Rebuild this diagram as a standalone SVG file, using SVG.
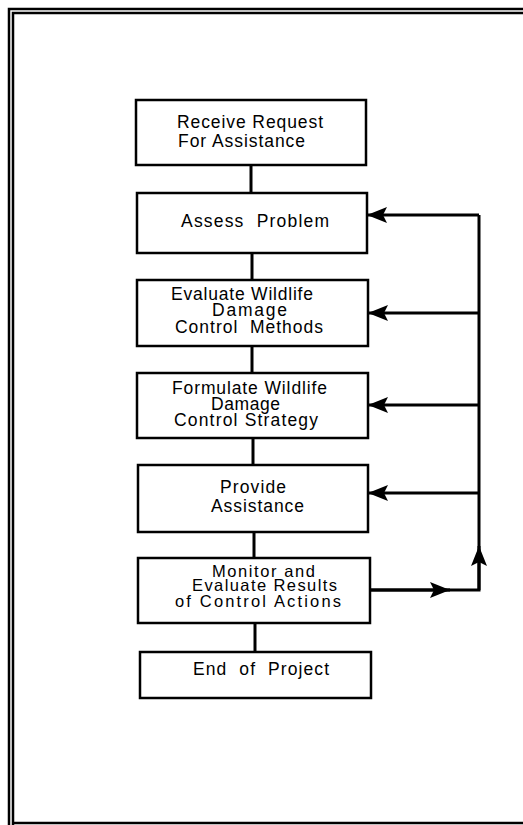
<svg xmlns="http://www.w3.org/2000/svg" width="523" height="825" viewBox="0 0 523 825">
<style>
.box{fill:#fff;stroke:#000;stroke-width:2.5}
.ln{fill:none;stroke:#000;stroke-width:3}
.t{font-family:"Liberation Sans",Arial,sans-serif;font-size:17.5px;fill:#000}
.s{font-size:16.5px}
.frame{fill:none;stroke:#000;stroke-width:2.5}
</style>
<defs>
<marker id="ah" viewBox="0 0 20 16" refX="20" refY="8" markerWidth="20" markerHeight="16" markerUnits="userSpaceOnUse" orient="auto">
<path d="M0,0 L20,8 L0,16 L4,8 Z" fill="#000"/>
</marker>
</defs>
<rect width="523" height="825" fill="#fff"/>
<g id="frame">
<path class="frame" d="M9,825 V9 H523"/>
<path class="frame" d="M13,825 V13 H523"/>
<path class="frame" d="M13,823 H523"/>
</g>
<g id="connectors">
<line class="ln" x1="251" y1="166" x2="251" y2="193"/>
<line class="ln" x1="252" y1="253" x2="252" y2="280"/>
<line class="ln" x1="252" y1="346" x2="252" y2="373"/>
<line class="ln" x1="253" y1="438" x2="253" y2="465"/>
<line class="ln" x1="254" y1="532" x2="254" y2="558"/>
<line class="ln" x1="255" y1="623" x2="255" y2="652"/>
<path class="ln" d="M370,590 H479 V215" stroke-width="3.5"/>
<line class="ln" x1="370" y1="590" x2="450" y2="590" marker-end="url(#ah)"/>
<line class="ln" x1="479" y1="590" x2="479" y2="546" marker-end="url(#ah)"/>
<line class="ln" x1="479" y1="215" x2="367" y2="215" marker-end="url(#ah)"/>
<line class="ln" x1="479" y1="313" x2="368" y2="313" marker-end="url(#ah)"/>
<line class="ln" x1="479" y1="405" x2="368" y2="405" marker-end="url(#ah)"/>
<line class="ln" x1="479" y1="493" x2="368" y2="493" marker-end="url(#ah)"/>
</g>
<g id="n1">
<rect class="box" x="136" y="100" width="230" height="65"/>
<text class="t" x="177" y="128" textLength="146" lengthAdjust="spacing">Receive Request</text>
<text class="t" x="178" y="147" textLength="127" lengthAdjust="spacing">For Assistance</text>
</g>
<g id="n2">
<rect class="box" x="137" y="193" width="230" height="60"/>
<text class="t" x="181" y="227" textLength="148" lengthAdjust="spacing" xml:space="preserve">Assess  Problem</text>
</g>
<g id="n3">
<rect class="box" x="137" y="280" width="231" height="66"/>
<text class="t" x="171" y="300" textLength="142" lengthAdjust="spacing">Evaluate Wildlife</text>
<text class="t" x="212" y="316" textLength="75" lengthAdjust="spacing">Damage</text>
<text class="t" x="175" y="333" textLength="148" lengthAdjust="spacing" xml:space="preserve">Control  Methods</text>
</g>
<g id="n4">
<rect class="box" x="137" y="373" width="231" height="65"/>
<text class="t" x="172" y="394" textLength="155" lengthAdjust="spacing">Formulate Wildlife</text>
<text class="t" x="211" y="410" textLength="69" lengthAdjust="spacing">Damage</text>
<text class="t" x="174" y="426" textLength="144" lengthAdjust="spacing">Control Strategy</text>
</g>
<g id="n5">
<rect class="box" x="138" y="465" width="230" height="67"/>
<text class="t" x="220" y="493" textLength="66" lengthAdjust="spacing">Provide</text>
<text class="t" x="211" y="512" textLength="93" lengthAdjust="spacing">Assistance</text>
</g>
<g id="n6">
<rect class="box" x="138" y="558" width="232" height="65"/>
<text class="t s" x="212" y="577" textLength="103" lengthAdjust="spacing">Monitor and</text>
<text class="t s" x="192" y="591" textLength="145" lengthAdjust="spacing">Evaluate Results</text>
<text class="t s" x="175" y="607" textLength="166" lengthAdjust="spacing">of Control Actions</text>
</g>
<g id="n7">
<rect class="box" x="140" y="652" width="231" height="46"/>
<text class="t" x="193" y="675" textLength="136" lengthAdjust="spacing" xml:space="preserve">End  of  Project</text>
</g>
</svg>
